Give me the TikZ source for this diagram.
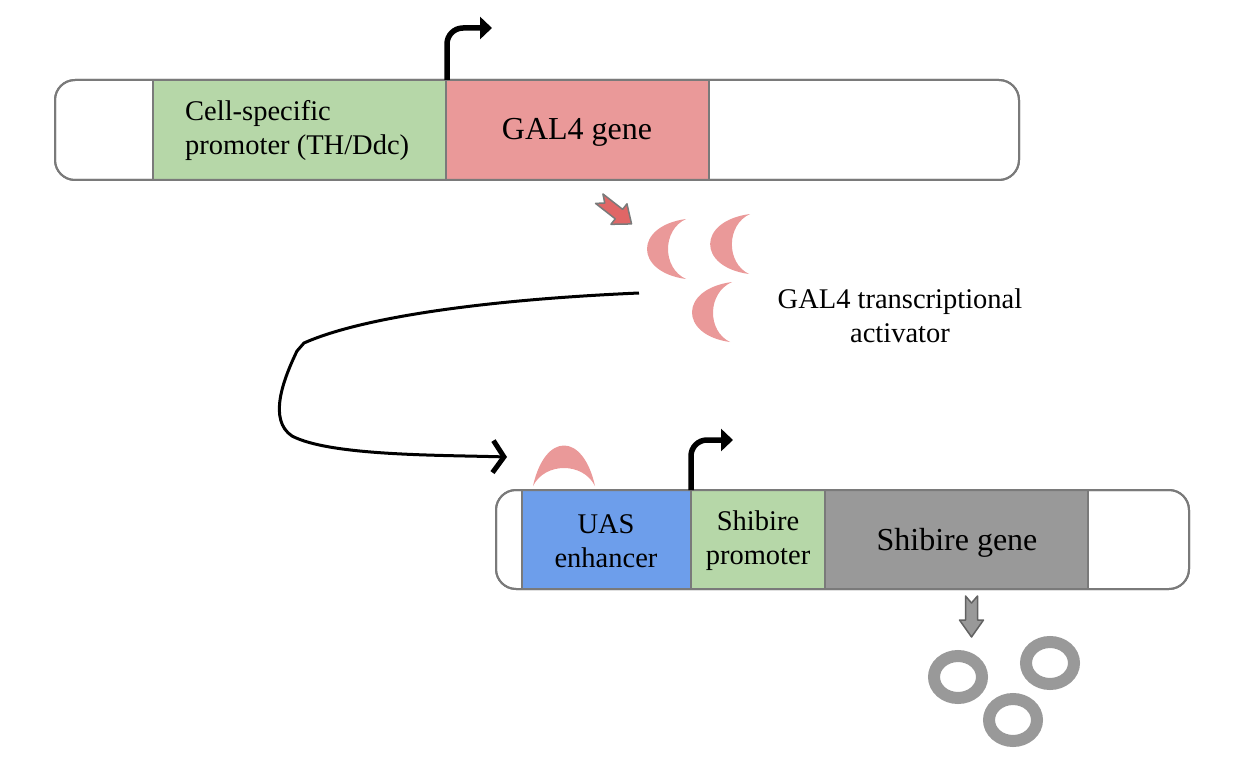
\documentclass[tikz,border=0pt]{standalone}
\usepackage{fontspec}
\setmainfont{Liberation Serif}
\usetikzlibrary{arrows.meta}
\definecolor{pgreen}{HTML}{B6D7A8}
\definecolor{gred}{HTML}{EA9999}
\definecolor{ublue}{HTML}{6D9EEB}
\definecolor{sgray}{HTML}{999999}
\definecolor{edge}{HTML}{7A7A7A}
\definecolor{arrred}{HTML}{E06666}
\tikzset{
  barbox/.style={draw=edge, line width=2pt, fill=white, rounded corners=20pt},
  seg/.style={draw=edge, line width=1.5pt},
  lbl/.style={font=\fontsize{28.5}{34}\selectfont, align=center, inner sep=0pt},
  biglbl/.style={font=\fontsize{32}{36}\selectfont, align=center, inner sep=0pt},
  promarrow/.style={line width=5.5pt, rounded corners=16pt, -{Triangle[length=12pt,width=22pt]}},
  crescent/.style={fill=gred, draw=none},
  ring/.style={draw=sgray, line width=12pt},
  notcharrow/.style={line width=1.5pt, line join=round}
}
\begin{document}
\begin{tikzpicture}[x=1pt,y=-1pt]
\useasboundingbox (0,0) rectangle (1260,770);
% top construct
\draw[barbox] (55,80) rectangle (1019,180);
\fill[pgreen] (153,81) rectangle (446,179);
\fill[gred] (446,81) rectangle (709,179);
\draw[seg] (153,80) -- (153,180);
\draw[seg] (446,80) -- (446,180);
\draw[seg] (709,80) -- (709,180);
\draw[barbox, fill=none] (55,80) rectangle (1019,180);
\node[lbl, align=left, anchor=west] (cellprom) at (185,131) {Cell-specific\\promoter (TH/Ddc)};
\node[biglbl] (gal4gene) at (577,132) {GAL4 gene};
\coordinate (tss1) at (447,80);
\coordinate (tss1end) at (492,28);
\draw[promarrow] (tss1) -- (447,28) -- (tss1end);
% small red arrow
\begin{scope}[shift={(615,211)}, rotate=-38]
\draw[notcharrow, draw=edge, fill=arrred] (-20,-6) -- (5,-6) -- (5,-13) -- (21,0) -- (5,13) -- (5,6) -- (-20,6) -- (-13,0) -- cycle;
\end{scope}
% crescents
\fill[crescent] (686,219) .. controls (634,226) and (634,272) .. (686,279) .. controls (662,268) and (662,230) .. cycle;
\fill[crescent] (750,214) .. controls (697,221) and (697,267) .. (749,274) .. controls (726,263) and (726,225) .. cycle;
\fill[crescent] (732,282) .. controls (679,289) and (679,335) .. (730,342) .. controls (707,331) and (707,293) .. cycle;
\node[lbl] (activ) at (900,316) {GAL4 transcriptional\\activator};
% connector curve
\coordinate (cstart) at (639,293);
\coordinate (cend) at (507,457);
\draw[line width=3pt, -{Straight Barb[length=11pt,width=32pt,line width=5pt]}]
  (cstart) .. controls (480,300) and (360,318) .. (304,343) -- (297,351)
  .. controls (283,380) and (268,420) .. (292,436)
  .. controls (330,456) and (440,455) .. (cend);
% bottom construct
\draw[barbox] (496,490) rectangle (1189,589);
\fill[ublue] (522,491) rectangle (691,588);
\fill[pgreen] (691,491) rectangle (825,588);
\fill[sgray] (825,491) rectangle (1088,588);
\draw[seg] (522,490) -- (522,589);
\draw[seg] (691,490) -- (691,589);
\draw[seg] (825,490) -- (825,589);
\draw[seg] (1088,490) -- (1088,589);
\draw[barbox, fill=none] (496,490) rectangle (1189,589);
\node[lbl] (uas) at (606,541) {UAS\\enhancer};
\node[lbl] (shprom) at (758,541) {Shibire\\promoter};
\node[biglbl] (shgene) at (957,543) {Shibire gene};
\coordinate (tss2) at (691,490);
\coordinate (tss2end) at (733,440);
\draw[promarrow] (tss2) -- (691,440) -- (tss2end);
% bound GAL4 on UAS
\fill[crescent] (533,486) .. controls (545,432) and (583,432) .. (595,486) .. controls (583,462) and (545,462) .. cycle;
% gray arrow down
\begin{scope}[shift={(971.5,616)}, rotate=-90]
\draw[notcharrow, draw=edge!80!black, fill=sgray] (-20,-6) -- (4,-6) -- (4,-12) -- (21,0) -- (4,12) -- (4,6) -- (-20,6) -- (-13,0) -- cycle;
\end{scope}
% rings
\draw[ring] (958,677) ellipse [x radius=24, y radius=21];
\draw[ring] (1050,663) ellipse [x radius=24, y radius=21];
\draw[ring] (1013,720) ellipse [x radius=24, y radius=21];
\end{tikzpicture}
\end{document}
